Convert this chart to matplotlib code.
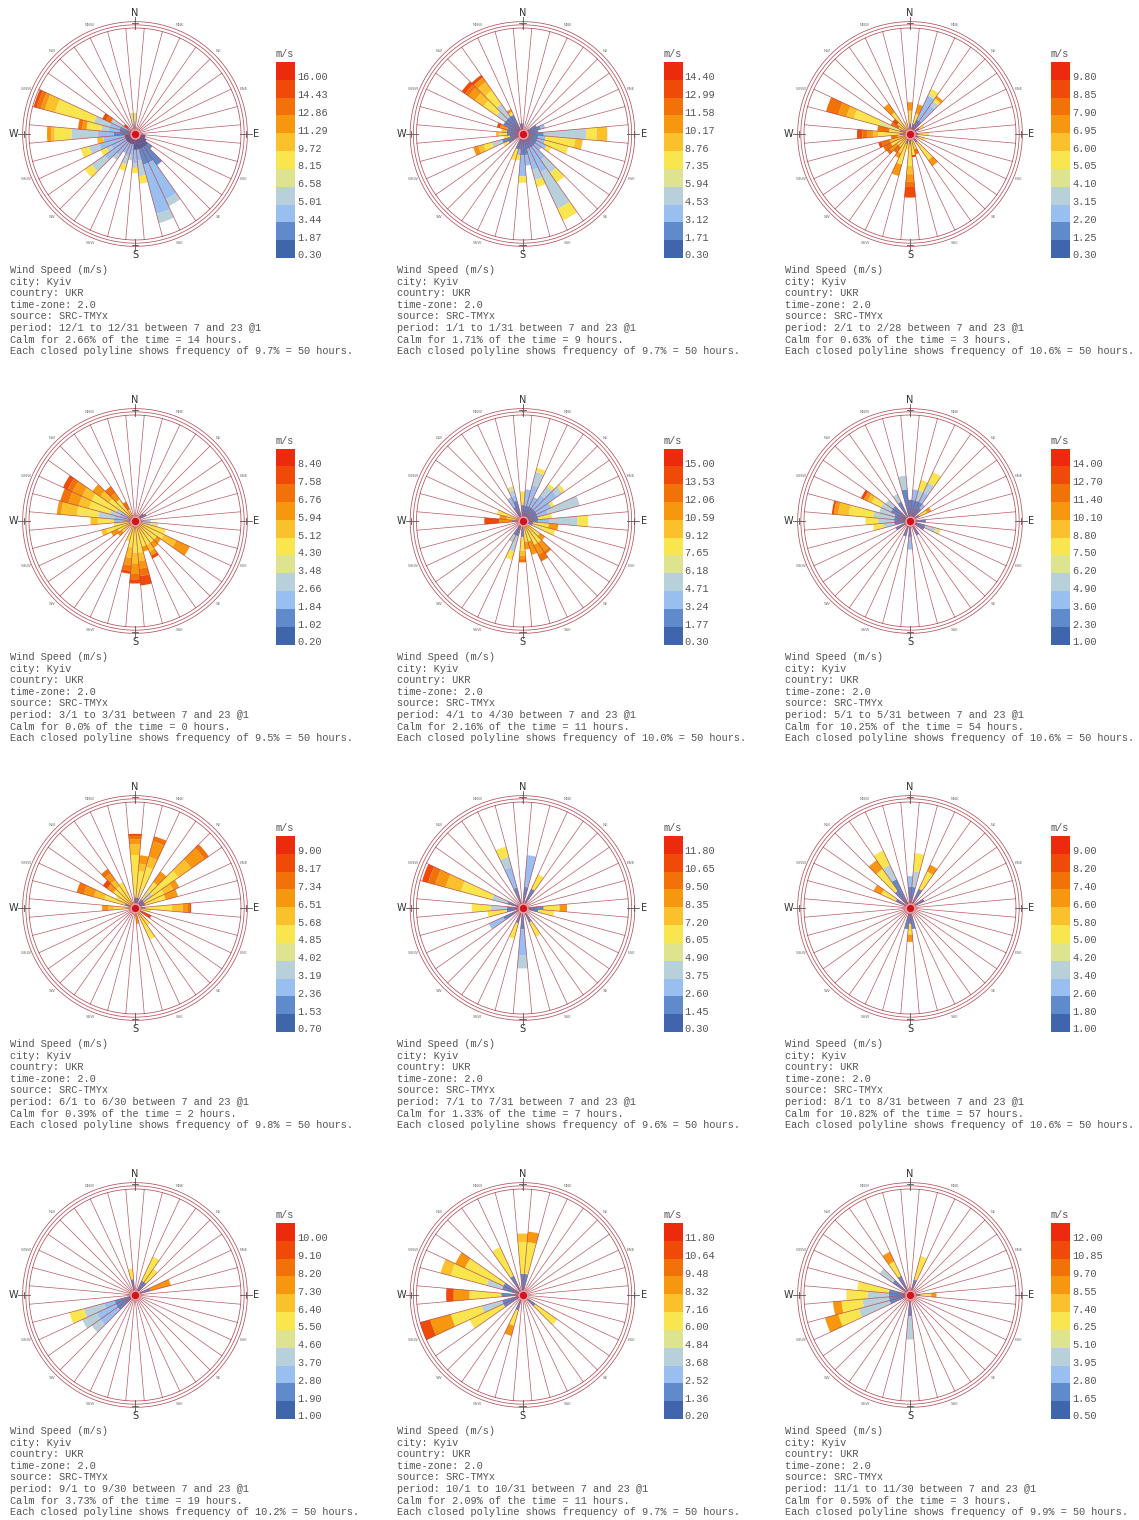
import numpy as np
import matplotlib
matplotlib.use("Agg")
import matplotlib.pyplot as plt
from matplotlib.colors import ListedColormap

# speed-bin colours, slowest -> fastest
BIN_COLORS = ['#3f66ad', '#5f8bcc', '#98bff0', '#b7d0da', '#dde38f', '#f9e54e',
              '#fbc12c', '#f7960f', '#f2720a', '#ef4a08', '#ec2a0c']

MONTHS = ['12', '1', '2', '3', '4', '5', '6', '7', '8', '9', '10', '11']
LAST_DAY = [31, 31, 28, 31, 30, 31, 30, 31, 31, 30, 31, 30]
SPEED_MIN = [0.30, 0.30, 0.30, 0.20, 0.30, 1.00, 0.70, 0.30, 1.00, 1.00, 0.20, 0.50]
SPEED_MAX = [16.00, 14.40, 9.80, 8.40, 15.00, 14.00, 9.00, 11.80, 9.00, 10.00, 11.80, 12.00]
CALM_PCT = ['2.66', '1.71', '0.63', '0.0', '2.16', '10.25', '0.39', '1.33', '10.82', '3.73', '2.09', '0.59']
CALM_HRS = [14, 9, 3, 0, 11, 54, 2, 7, 57, 19, 11, 3]
RING_PCT = ['9.7', '9.7', '10.6', '9.5', '10.0', '10.6', '9.8', '9.6', '10.6', '10.2', '9.7', '9.9']

# direction (deg) -> stacked segments (speed bin, outer radius as fraction of rose radius)
ROSE_DEC = {
    0: [(3, 0.12), (4, 0.2)], 100: [(0, 0.1)], 110: [(0, 0.1)], 120: [(0, 0.12)],
    130: [(0, 0.15), (1, 0.2)], 140: [(0, 0.15), (1, 0.36)],
    150: [(0, 0.15), (1, 0.3), (2, 0.68), (3, 0.75)],
    160: [(0, 0.15), (1, 0.3), (2, 0.78), (3, 0.87)],
    170: [(0, 0.15), (2, 0.25), (3, 0.4), (5, 0.47)],
    180: [(0, 0.15), (2, 0.28), (3, 0.32), (5, 0.37)],
    190: [(0, 0.1), (2, 0.2), (3, 0.25)],
    200: [(0, 0.1), (2, 0.22), (3, 0.3), (5, 0.36)],
    210: [(0, 0.1), (2, 0.2)], 220: [(0, 0.1), (2, 0.25), (3, 0.3)],
    230: [(0, 0.1), (2, 0.35), (3, 0.5), (5, 0.58)],
    240: [(0, 0.1), (2, 0.25), (3, 0.3), (5, 0.36)],
    250: [(0, 0.1), (2, 0.35), (3, 0.45), (5, 0.53)],
    260: [(0, 0.1), (2, 0.3), (6, 0.36)],
    270: [(1, 0.2), (2, 0.35), (3, 0.6), (5, 0.76), (6, 0.79), (7, 0.83)],
    280: [(1, 0.15), (2, 0.25), (3, 0.32), (5, 0.46), (7, 0.50), (8, 0.54)],
    290: [(1, 0.15), (2, 0.25), (3, 0.4), (5, 0.78), (6, 0.88), (7, 0.92), (8, 0.96), (9, 0.99)],
    300: [(2, 0.15), (3, 0.25), (8, 0.30), (9, 0.34)],
    310: [(2, 0.08), (9, 0.13)], 350: [(2, 0.1), (4, 0.2)],
}
ROSE_JAN = {
    0: [(1, 0.1)], 60: [(1, 0.15)], 70: [(1, 0.18), (2, 0.22)], 80: [(1, 0.15)],
    90: [(1, 0.2), (3, 0.6), (5, 0.7), (6, 0.8)],
    100: [(1, 0.15), (2, 0.22), (5, 0.5), (6, 0.57)],
    110: [(1, 0.15), (2, 0.22), (5, 0.45)], 120: [(1, 0.15), (2, 0.25), (5, 0.3)],
    130: [(1, 0.15), (2, 0.22)], 140: [(1, 0.15), (2, 0.3), (3, 0.45), (5, 0.56)],
    150: [(1, 0.15), (2, 0.4), (3, 0.78), (5, 0.9)],
    160: [(1, 0.15), (2, 0.35), (3, 0.45), (5, 0.52)],
    170: [(1, 0.2), (2, 0.3)], 180: [(1, 0.2), (2, 0.4), (5, 0.46)],
    190: [(1, 0.15), (2, 0.2), (5, 0.25)], 200: [(1, 0.15), (5, 0.26)],
    240: [(1, 0.15), (5, 0.2)],
    250: [(1, 0.2), (3, 0.3), (5, 0.38), (6, 0.43), (7, 0.48)],
    260: [(1, 0.12), (5, 0.18)], 270: [(1, 0.15), (5, 0.22), (6, 0.25)],
    280: [(1, 0.15), (6, 0.2)], 290: [(1, 0.15), (7, 0.22), (9, 0.25)],
    300: [(1, 0.2)],
    310: [(1, 0.2), (3, 0.3), (5, 0.45), (6, 0.55), (7, 0.62), (8, 0.66), (9, 0.7)],
    320: [(1, 0.2), (3, 0.35), (5, 0.5), (6, 0.6), (7, 0.65), (9, 0.68)],
    330: [(1, 0.2), (5, 0.23), (7, 0.26)], 350: [(1, 0.1)],
}
ROSE_FEB = {
    0: [(1, 0.1), (5, 0.22), (7, 0.3)], 20: [(1, 0.1), (5, 0.2), (7, 0.29)],
    30: [(1, 0.15), (2, 0.4), (4, 0.43), (5, 0.47)],
    40: [(1, 0.15), (2, 0.33), (3, 0.38), (5, 0.41), (7, 0.44)],
    60: [(1, 0.1), (5, 0.15)], 90: [(1, 0.08), (5, 0.18)], 110: [(1, 0.08), (5, 0.15)],
    140: [(1, 0.1), (5, 0.3), (7, 0.37)], 160: [(5, 0.15), (8, 0.2)],
    170: [(5, 0.2), (9, 0.22)],
    180: [(1, 0.1), (5, 0.3), (6, 0.38), (7, 0.45), (8, 0.5), (9, 0.6)],
    190: [(5, 0.15)], 200: [(1, 0.1), (5, 0.3), (7, 0.41)],
    210: [(5, 0.2), (7, 0.25)], 220: [(5, 0.15), (8, 0.22)],
    230: [(5, 0.15), (7, 0.23), (8, 0.27)], 240: [(5, 0.2), (8, 0.28)],
    250: [(6, 0.2), (8, 0.28), (9, 0.31)], 260: [(5, 0.12), (8, 0.18)],
    270: [(1, 0.1), (5, 0.3), (6, 0.35), (7, 0.4), (8, 0.45), (9, 0.5)],
    280: [(5, 0.2), (8, 0.31)],
    290: [(1, 0.1), (4, 0.3), (5, 0.55), (6, 0.62), (7, 0.7), (8, 0.82)],
    300: [(5, 0.12), (8, 0.2)], 310: [(5, 0.15), (9, 0.2)],
    320: [(5, 0.25), (7, 0.35)], 340: [(5, 0.12)],
}
ROSE_MAR = {
    50: [(1, 0.1)], 60: [(1, 0.12)], 90: [(3, 0.15)], 100: [(3, 0.15), (4, 0.22)],
    110: [(5, 0.3)], 120: [(5, 0.3), (6, 0.43), (7, 0.57)],
    130: [(5, 0.25), (7, 0.3)], 140: [(5, 0.25), (7, 0.31)],
    150: [(5, 0.25), (6, 0.32), (7, 0.36), (9, 0.39)], 160: [(5, 0.25), (7, 0.3)],
    170: [(5, 0.3), (6, 0.38), (7, 0.45), (8, 0.52), (9, 0.61)],
    180: [(4, 0.1), (5, 0.3), (6, 0.4), (7, 0.5), (8, 0.55), (9, 0.59)],
    190: [(5, 0.25), (6, 0.35), (7, 0.42), (8, 0.47), (9, 0.5)],
    200: [(5, 0.2)], 230: [(5, 0.15), (7, 0.2)], 240: [(5, 0.18), (7, 0.25)],
    250: [(5, 0.28), (6, 0.33)], 260: [(5, 0.2)],
    270: [(2, 0.2), (5, 0.35), (6, 0.42)],
    280: [(2, 0.2), (3, 0.35), (5, 0.55), (6, 0.7), (7, 0.74)],
    290: [(2, 0.15), (3, 0.25), (5, 0.45), (6, 0.55), (7, 0.65), (8, 0.73)],
    300: [(2, 0.15), (3, 0.2), (5, 0.45), (6, 0.55), (7, 0.65), (8, 0.7), (9, 0.75)],
    310: [(5, 0.3), (6, 0.4), (7, 0.49)], 320: [(5, 0.25), (7, 0.32), (8, 0.4)],
    330: [(5, 0.12), (8, 0.2)],
}
ROSE_APR = {
    0: [(1, 0.15), (5, 0.28)], 10: [(1, 0.15), (2, 0.3)],
    20: [(1, 0.15), (2, 0.35), (3, 0.48), (5, 0.52)], 30: [(1, 0.15), (2, 0.25)],
    40: [(1, 0.15), (2, 0.3), (3, 0.4), (5, 0.43)],
    50: [(1, 0.15), (2, 0.4), (3, 0.46), (5, 0.49)], 60: [(1, 0.15), (2, 0.3), (5, 0.33)],
    70: [(1, 0.15), (2, 0.25), (3, 0.56)], 80: [(1, 0.15), (5, 0.28)],
    90: [(1, 0.15), (2, 0.25), (3, 0.52), (5, 0.62)],
    100: [(1, 0.1), (5, 0.25), (7, 0.34)], 110: [(1, 0.1), (4, 0.2), (5, 0.32)],
    130: [(5, 0.2), (7, 0.26)], 140: [(5, 0.25), (7, 0.35), (8, 0.38)],
    150: [(5, 0.25), (7, 0.35), (8, 0.42)], 160: [(5, 0.2), (7, 0.33)],
    170: [(5, 0.2), (7, 0.27)],
    180: [(1, 0.15), (5, 0.28), (6, 0.33), (7, 0.36), (8, 0.39)],
    200: [(1, 0.15), (3, 0.3), (5, 0.38)], 210: [(1, 0.15), (3, 0.22)],
    270: [(1, 0.1), (7, 0.22), (9, 0.36)], 280: [(5, 0.15), (7, 0.22)],
    290: [(5, 0.25)], 330: [(1, 0.15), (2, 0.25)],
    340: [(1, 0.2), (2, 0.25), (3, 0.3), (4, 0.34)],
}
ROSE_MAY = {
    0: [(1, 0.2)], 10: [(1, 0.2), (2, 0.3)], 20: [(1, 0.2), (3, 0.3), (5, 0.4)],
    30: [(1, 0.2), (2, 0.3), (3, 0.4), (5, 0.51)], 40: [(1, 0.15), (2, 0.2)],
    60: [(1, 0.1), (5, 0.18), (7, 0.22)], 90: [(1, 0.15)],
    110: [(1, 0.15), (3, 0.25), (4, 0.3)], 120: [(1, 0.15)], 150: [(1, 0.15)],
    180: [(1, 0.15), (2, 0.27)], 200: [(1, 0.15)], 240: [(1, 0.15)],
    260: [(1, 0.15), (3, 0.25), (5, 0.35)], 270: [(1, 0.15), (3, 0.3), (5, 0.42)],
    280: [(1, 0.15), (3, 0.35), (5, 0.58), (6, 0.68), (7, 0.72), (9, 0.74)],
    290: [(1, 0.15), (3, 0.3)],
    300: [(1, 0.2), (3, 0.3), (5, 0.4), (6, 0.44), (7, 0.48), (9, 0.51)],
    310: [(1, 0.2), (3, 0.28)], 330: [(1, 0.2), (3, 0.28)], 350: [(1, 0.3), (3, 0.43)],
}
ROSE_JUN = {
    0: [(1, 0.1), (4, 0.15), (5, 0.5), (6, 0.6), (7, 0.65), (8, 0.68), (9, 0.7)],
    10: [(1, 0.1), (5, 0.35), (6, 0.42), (7, 0.5)],
    20: [(1, 0.1), (4, 0.2), (5, 0.4), (6, 0.5), (7, 0.65), (8, 0.7)],
    40: [(1, 0.1), (4, 0.2), (5, 0.3), (7, 0.42)],
    50: [(1, 0.1), (3, 0.2), (5, 0.5), (6, 0.65), (7, 0.8), (8, 0.85)],
    60: [(1, 0.1), (5, 0.3), (6, 0.4), (7, 0.46)], 70: [(1, 0.1), (5, 0.3), (7, 0.42)],
    90: [(1, 0.1), (5, 0.35), (6, 0.45), (7, 0.5), (8, 0.52), (9, 0.53)],
    100: [(5, 0.15)], 120: [(9, 0.17)], 140: [(5, 0.2)], 150: [(5, 0.33)],
    170: [(7, 0.15)], 270: [(5, 0.2), (6, 0.25), (7, 0.31)],
    290: [(1, 0.1), (5, 0.3), (6, 0.4), (7, 0.5), (8, 0.57)], 300: [(5, 0.2)],
    310: [(5, 0.25), (7, 0.32), (9, 0.37)],
    320: [(5, 0.25), (6, 0.32), (7, 0.4), (8, 0.45)], 330: [(5, 0.27)],
}
ROSE_JUL = {
    10: [(1, 0.2), (2, 0.5)], 30: [(1, 0.2), (5, 0.35)],
    90: [(1, 0.2), (5, 0.35), (7, 0.42)], 100: [(1, 0.15), (5, 0.3)],
    150: [(1, 0.15), (5, 0.3)], 180: [(1, 0.2), (2, 0.45), (3, 0.57)],
    200: [(1, 0.15), (5, 0.3)], 240: [(1, 0.2), (2, 0.35)],
    260: [(1, 0.15), (5, 0.33)], 270: [(1, 0.15), (3, 0.3), (5, 0.48)],
    290: [(1, 0.15), (3, 0.3), (5, 0.6), (6, 0.75), (7, 0.85), (8, 0.92), (9, 0.98)],
    340: [(1, 0.2), (2, 0.4), (3, 0.5), (5, 0.6)],
}
ROSE_AUG = {
    0: [(1, 0.2), (2, 0.3)], 10: [(1, 0.2), (3, 0.35), (5, 0.52)],
    30: [(1, 0.2), (5, 0.38), (7, 0.45)], 60: [(1, 0.15)],
    170: [(1, 0.2)], 180: [(1, 0.15), (5, 0.25), (7, 0.32)], 190: [(1, 0.2)],
    300: [(1, 0.15), (5, 0.3), (7, 0.38)], 320: [(1, 0.2), (5, 0.45), (7, 0.55)],
    330: [(1, 0.3), (3, 0.45), (5, 0.6)],
}
ROSE_SEP = {
    30: [(1, 0.15), (5, 0.4)], 40: [(1, 0.15), (5, 0.3)], 70: [(1, 0.15), (7, 0.35)],
    230: [(1, 0.2), (2, 0.4), (3, 0.5)], 240: [(1, 0.2), (2, 0.4), (3, 0.55)],
    250: [(1, 0.2), (2, 0.3), (3, 0.5), (5, 0.64)], 350: [(1, 0.15), (5, 0.25)],
}
ROSE_OCT = {
    0: [(1, 0.2), (5, 0.5), (6, 0.58)], 10: [(1, 0.2), (5, 0.5), (7, 0.6)],
    130: [(1, 0.15), (5, 0.4)], 200: [(1, 0.15), (5, 0.3), (7, 0.4)],
    240: [(1, 0.2), (5, 0.55)], 250: [(1, 0.2), (3, 0.4), (5, 0.7), (7, 0.9), (9, 1.0)],
    270: [(1, 0.2), (5, 0.5), (7, 0.65), (9, 0.72)],
    290: [(1, 0.2), (3, 0.35), (5, 0.7), (6, 0.8)], 300: [(1, 0.2), (5, 0.6), (7, 0.7)],
    330: [(1, 0.2), (5, 0.5)],
}
ROSE_NOV = {
    20: [(1, 0.15), (5, 0.38)], 90: [(1, 0.1), (5, 0.2), (7, 0.25)],
    180: [(1, 0.2), (3, 0.42)], 250: [(1, 0.2), (3, 0.5), (5, 0.7), (7, 0.83)],
    260: [(1, 0.2), (3, 0.45), (5, 0.65), (7, 0.73)], 270: [(1, 0.2), (3, 0.4), (5, 0.6)],
    280: [(1, 0.2), (5, 0.5)], 310: [(1, 0.2), (3, 0.35)],
    330: [(1, 0.2), (5, 0.35), (7, 0.45)],
}
ROSES = [ROSE_DEC, ROSE_JAN, ROSE_FEB, ROSE_MAR, ROSE_APR, ROSE_MAY,
         ROSE_JUN, ROSE_JUL, ROSE_AUG, ROSE_SEP, ROSE_OCT, ROSE_NOV]

SMALL_DIRS = ['NNE', 'NE', 'ENE', 'ESE', 'SE', 'SSE', 'SSW', 'SW', 'WSW', 'WNW', 'NW', 'NNW']
SMALL_ANGLES = [22.5, 45, 67.5, 112.5, 135, 157.5, 202.5, 225, 247.5, 292.5, 315, 337.5]

W, H = 1139, 1520
PX_R = 106      # pixels for radius 1
RMAX = 1.16
LINE_RED = '#a8303c'
MONO = 'Liberation Mono'
TXT = '#555555'

fig = plt.figure(figsize=(W / 100, H / 100), dpi=100)

for i, rose in enumerate(ROSES):
    row, col = divmod(i, 3)
    ox, oy = col * 387.5, row * 387
    cx, cy = ox + 135, oy + 134
    a = RMAX * PX_R
    ax = fig.add_axes([(cx - a) / W, 1 - (cy + a) / H, 2 * a / W, 2 * a / H], projection='polar')
    ax.set_theta_zero_location('N')
    ax.set_theta_direction(-1)
    ax.set_ylim(0, RMAX)
    ax.axis('off')

    # stacked bars
    for ang, segs in rose.items():
        start = 0.0
        for b, r_end in segs:
            ax.bar(np.deg2rad(ang), r_end - start, bottom=start, width=np.deg2rad(10),
                   color=BIN_COLORS[b], linewidth=0, zorder=2)
            start = r_end

    # bin edge lines
    for k in range(36):
        t = np.deg2rad(5 + 10 * k)
        ax.plot([t, t], [0, 1.0], color=LINE_RED, lw=0.5, alpha=0.8, zorder=3)
    th = np.linspace(0, 2 * np.pi, 400)
    for rr in (1.0, 1.03, 1.06):
        ax.plot(th, np.full_like(th, rr), color=LINE_RED, lw=0.55, alpha=0.85, zorder=3)

    # compass
    for lab, ang in zip(['N', 'E', 'S', 'W'], [0, 90, 180, 270]):
        t = np.deg2rad(ang)
        ax.plot([t, t], [0.99, 1.10], color='#555555', lw=0.6, zorder=4)
        ax.plot([t - 0.03, t + 0.03], [1.05, 1.05], color='#555555', lw=0.6, zorder=4)
        ax.text(t, 1.145, lab, ha='center', va='center', fontsize=7, color='#333333',
                clip_on=False)
    for lab, ang in zip(SMALL_DIRS, SMALL_ANGLES):
        ax.text(np.deg2rad(ang), 1.11, lab, ha='center', va='center', fontsize=3,
                color='#777777', clip_on=False)

    # calm circle
    ax.scatter([0], [0], s=55, color='#f2a0a6', zorder=5, linewidths=0)
    ax.scatter([0], [0], s=28, color='#d0141e', zorder=6, linewidths=0)

    # legend bar
    cax = fig.add_axes([(ox + 276) / W, 1 - (oy + 258) / H, 19 / W, 196 / H])
    cax.imshow(np.arange(10, -1, -1).reshape(-1, 1), cmap=ListedColormap(BIN_COLORS),
               vmin=-0.5, vmax=10.5, aspect='auto', interpolation='nearest')
    vals = np.linspace(SPEED_MAX[i], SPEED_MIN[i], 11)
    cax.set_xticks([])
    cax.yaxis.tick_right()
    cax.set_yticks([k + 0.3 for k in range(11)])
    cax.set_yticklabels(['%.2f' % v for v in vals], fontsize=7.4, family=MONO, color=TXT)
    cax.tick_params(axis='y', length=0, pad=1.5)
    for s in cax.spines.values():
        s.set_visible(False)
    fig.text((ox + 285) / W, 1 - (oy + 54) / H, 'm/s', ha='center', va='center',
             fontsize=7.4, family=MONO, color=TXT)

    # info block
    m = MONTHS[i]
    lines = [
        'Wind Speed (m/s)',
        'city: Kyiv',
        'country: UKR',
        'time-zone: 2.0',
        'source: SRC-TMYx',
        'period: %s/1 to %s/%d between 7 and 23 @1' % (m, m, LAST_DAY[i]),
        'Calm for %s%% of the time = %d hours.' % (CALM_PCT[i], CALM_HRS[i]),
        'Each closed polyline shows frequency of %s%% = 50 hours.' % RING_PCT[i],
    ]
    for j, ln in enumerate(lines):
        fig.text((ox + 10) / W, 1 - (oy + 270 + 11.6 * j) / H, ln, ha='left', va='center',
                 fontsize=7.4, family=MONO, color=TXT)

fig.savefig('out.png', dpi=100, facecolor='white')
